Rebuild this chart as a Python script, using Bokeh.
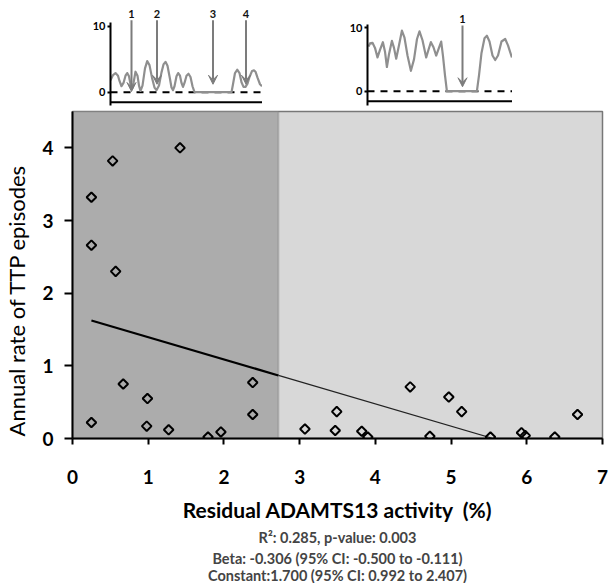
import numpy as np
from bokeh.plotting import figure
from bokeh.models import (Range1d, FixedTicker, BoxAnnotation, Span, Arrow, VeeHead,
                          ColumnDataSource, Title, Spacer)
from bokeh.layouts import column, row
from bokeh.core.properties import value
from bokeh.embed import file_html
from bokeh.resources import INLINE

# ---------------- data ----------------
residual_activity = [1.42, 0.53, 0.25, 0.25, 0.57, 0.67, 0.99, 0.25, 0.98, 1.27,
                     1.79, 1.96, 2.38, 2.38, 3.07, 3.49, 3.47, 3.82, 3.90, 4.46,
                     4.72, 4.97, 5.14, 5.52, 5.93, 5.98, 6.37, 6.67]
annual_rate = [4.00, 3.82, 3.32, 2.66, 2.30, 0.75, 0.55, 0.22, 0.17, 0.12,
               0.02, 0.09, 0.77, 0.33, 0.13, 0.37, 0.11, 0.10, 0.02, 0.71,
               0.03, 0.57, 0.37, 0.02, 0.08, 0.04, 0.02, 0.33]
reg_const = 1.700
reg_beta = -0.306
region_boundary = 2.72
x_ticks = [0, 1, 2, 3, 4, 5, 6, 7]
y_ticks = [0, 1, 2, 3, 4]
x_title = "Residual ADAMTS13 activity\u00a0 (%)"
y_title = "Annual rate of TTP episodes"
stats_lines = ["R\u00b2: 0.285, p-value: 0.003",
               "Beta: -0.306 (95% CI: -0.500 to -0.111)",
               "Constant:1.700 (95% CI: 0.992 to 2.407)"]

# schematic inset curves (time, activity %)
left_t = [0, 2.5, 5, 7.5, 9, 11, 13, 15, 16.7, 18.5, 20, 21.5, 23, 25, 27,
          28.5, 30, 32, 34.5, 36.7, 39, 41.5, 44, 46, 48.5, 51, 53, 55, 57, 59.5,
          61, 62.5, 64, 66, 67.7, 69.5, 71, 72.5, 74, 76, 78, 80, 82, 84, 121,
          122.5, 124.5, 126.7, 129, 131, 133, 135, 137, 139, 141.5, 143.5, 145, 147, 149.5, 151.5]
left_v = [1.8, 2.6, 2.9, 2.5, 1.7, 0.9, 1.4, 2.5, 2.9, 2.4, 1.2, 0.5, 1.4, 3.1, 2.5,
          1.0, 0.2, 1.0, 3.6, 4.7, 4.1, 2.2, 0.7, 0.3, 1.0, 3.0, 4.2, 4.6, 4.0, 2.0,
          0.7, 0.3, 0.9, 2.4, 2.9, 2.5, 1.4, 0.8, 1.4, 2.5, 2.8, 2.3, 0.9, 0.0, 0.0,
          1.2, 2.9, 3.4, 2.9, 1.5, 0.8, 0.8, 1.3, 2.3, 3.2, 3.3, 3.1, 2.2, 1.2, 0.9]
left_arrow_t = [21, 46.5, 102.5, 135.5]
left_arrow_tip = [0.1, 1.2, 1.2, 1.2]
left_arrow_labels = ["1", "2", "3", "4"]

right_t = [1, 2.5, 5, 7.5, 10, 12.5, 15.4, 17.5, 19.4, 21.5, 24.4, 26.5, 28.7, 31.5, 34.4,
           37, 40, 43.4, 46.5, 49.5, 52, 55, 58.7, 61, 63.4, 66, 68.7, 71, 73.7, 75.5,
           77.5, 79.4, 109.4, 111.5, 114, 117, 119.4, 122, 125, 127.7, 130.5, 134, 137.7, 140.5, 144.4]
right_v = [7.0, 7.5, 7.6, 6.8, 5.3, 6.5, 7.7, 6.2, 3.8, 5.8, 7.9, 6.8, 5.1, 7.2, 9.5,
           8.4, 5.6, 3.2, 5.0, 8.2, 9.4, 8.0, 5.3, 6.5, 7.7, 6.9, 5.6, 6.6, 7.8, 5.5,
           2.5, 0.0, 0.0, 2.5, 6.0, 8.3, 8.7, 7.8, 5.6, 4.9, 5.6, 7.8, 8.2, 7.2, 5.3]
right_arrow_t = [95]
right_arrow_tip = [0.7]
right_arrow_labels = ["1"]
inset_ticks = [0, 10]

FONT = "Lato"
CURVE = "#8f8f8f"
ARROW = "#7c7c7c"


def make_inset(t, v, arrow_t, arrow_tip, labels, frame_w, yr, arrow_top, label_y, base_y):
    f = figure(width=30 + frame_w, height=106, x_range=Range1d(0, frame_w), y_range=Range1d(*yr),
               min_border_left=30, min_border_right=0, min_border_top=0, min_border_bottom=0,
               x_axis_location=None, output_backend="svg", toolbar_location=None)
    f.outline_line_color = None
    f.grid.visible = False
    ax = f.yaxis[0]
    ax.ticker = FixedTicker(ticks=inset_ticks)
    ax.bounds = (yr[0] + 0.1, 10.5)
    ax.axis_line_width = 2
    ax.major_tick_line_width = 2
    ax.major_tick_out = 3
    ax.major_tick_in = 0
    ax.minor_tick_out = 0
    ax.minor_tick_in = 0
    ax.major_label_standoff = 2
    ax.major_label_text_font = FONT
    ax.major_label_text_font_style = "bold"
    ax.major_label_text_font_size = "11px"
    ax.major_label_text_color = "black"
    f.add_layout(Span(location=0, dimension="width", line_color="black", line_width=2,
                      line_dash="7 6", level="underlay"))
    f.add_layout(Span(location=base_y, dimension="width", line_color="black", line_width=2))
    f.line(t, v, line_color=CURVE, line_width=2.2, line_join="round")
    src = ColumnDataSource(dict(x0=arrow_t, y0=[arrow_top] * len(arrow_t), x1=arrow_t, y1=arrow_tip))
    f.add_layout(Arrow(source=src, x_start="x0", y_start="y0", x_end="x1", y_end="y1",
                       line_color=ARROW, line_width=2,
                       end=VeeHead(size=9, fill_color=ARROW, line_color=ARROW, line_width=1)))
    f.text(x=arrow_t, y=[label_y] * len(arrow_t), text=labels, text_font=value(FONT),
           text_font_style="bold", text_font_size="11px", text_align="center",
           text_baseline="middle", text_color="#111111")
    return f


inset_a = make_inset(left_t, left_v, left_arrow_t, left_arrow_tip, left_arrow_labels,
                     152, (-2.17, 13.89), 10.9, 11.8, -1.52)
inset_b = make_inset(right_t, right_v, right_arrow_t, right_arrow_tip, right_arrow_labels,
                     145, (-2.40, 14.24), 10.3, 11.4, -1.57)

top_row = row(Spacer(width=80, height=106), inset_a, Spacer(width=75, height=106),
              inset_b, Spacer(width=98, height=106))

# ---------------- main plot ----------------
p = figure(width=610, height=477, x_range=Range1d(0, 7), y_range=Range1d(0, 4.5),
           output_backend="svg", toolbar_location=None,
           min_border_left=72, min_border_right=8, min_border_top=5, min_border_bottom=145)
p.background_fill_color = "#d8d8d8"
p.outline_line_color = "#777777"
p.outline_line_width = 1.5
p.grid.visible = False

p.add_layout(BoxAnnotation(left=0, right=region_boundary, fill_color="#acacac", fill_alpha=1,
                           line_color="#707070", line_width=2, level="underlay"))

x_lo = min(residual_activity)
x_zero = -reg_const / reg_beta
p.line([x_lo, region_boundary], [reg_const + reg_beta * x_lo, reg_const + reg_beta * region_boundary],
       line_color="black", line_width=2.2)
p.line([region_boundary, x_zero], [reg_const + reg_beta * region_boundary, reg_const + reg_beta * x_zero],
       line_color="#222222", line_width=1.2)

p.scatter(residual_activity, annual_rate, marker="square", size=6.8, angle=np.pi / 4,
          fill_alpha=0, line_color="black", line_width=2)

for ax in (p.xaxis[0], p.yaxis[0]):
    ax.axis_line_width = 2
    ax.axis_line_color = "black"
    ax.major_tick_line_width = 2
    ax.major_tick_in = 0
    ax.minor_tick_out = 0
    ax.minor_tick_in = 0
    ax.major_label_text_font = FONT
    ax.major_label_text_font_style = "bold"
    ax.major_label_text_font_size = "19px"
    ax.major_label_text_color = "black"
    ax.axis_label_text_font = FONT
    ax.axis_label_text_color = "black"

p.xaxis.ticker = FixedTicker(ticks=x_ticks)
p.yaxis.ticker = FixedTicker(ticks=y_ticks)
p.xaxis.major_tick_out = 6
p.yaxis.major_tick_out = 8
p.xaxis.major_label_standoff = 25
p.yaxis.major_label_standoff = 11
p.xaxis.axis_label = x_title
p.xaxis.axis_label_text_font_style = "bold"
p.xaxis.axis_label_text_font_size = "21px"
p.xaxis.axis_label_standoff = 10
# trailing no-break spaces move the rotated title a little down, as in the original
p.yaxis.axis_label = y_title + "\u00a0" * 9
p.yaxis.axis_label_text_font_style = "normal"
p.yaxis.axis_label_text_font_size = "22px"
p.yaxis.axis_label_standoff = 9

for i, line in enumerate(stats_lines):
    p.add_layout(Title(text=line, align="center", text_font=FONT, text_font_style="bold",
                       text_font_size="14.5px", text_line_height=1.0,
                       standoff=5 if i == 0 else -2, offset=0),
                 "below")

layout = column(top_row, p)
open("out.html", "w").write(file_html(layout, INLINE))
